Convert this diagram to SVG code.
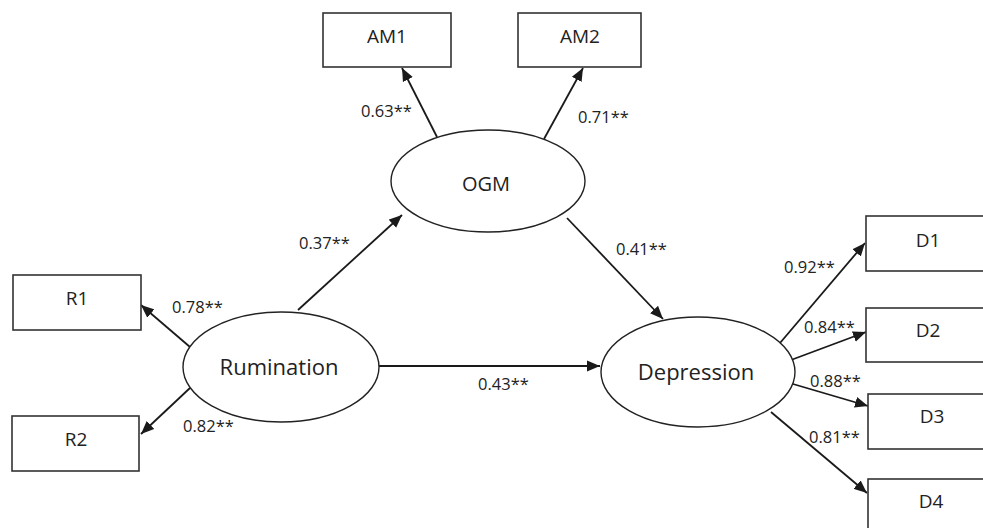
<svg xmlns="http://www.w3.org/2000/svg" width="983" height="528" viewBox="0 0 983 528">
<style>
.box{fill:#fff;stroke:#333;stroke-width:1.6}
.ell{fill:#fff;stroke:#222;stroke-width:1.4}
.lbl{font-family:"Open Sans","Noto Sans",sans-serif;fill:#222;text-anchor:middle}
.bl{font-size:19px}
.el{font-size:22px}
.cf{font-family:"Open Sans","Noto Sans",sans-serif;font-size:16.5px;fill:#222}
.arr{stroke:#1a1a1a;stroke-width:1.8;fill:none;marker-end:url(#ah)}
</style>
<defs>
<marker id="ah" markerUnits="userSpaceOnUse" markerWidth="14" markerHeight="12" refX="13" refY="6" orient="auto">
<path d="M0,0.5 L13,6 L0,11.5 Z" fill="#1a1a1a"/>
</marker>
</defs>
<rect width="983" height="528" fill="#fff"/>
<g id="connectors">
<line class="arr" x1="437" y1="137" x2="402" y2="68"/>
<line class="arr" x1="544" y1="139" x2="583" y2="68"/>
<line class="arr" x1="298" y1="310" x2="402" y2="215"/>
<line class="arr" x1="567" y1="218" x2="663" y2="319"/>
<line class="arr" x1="378" y1="366" x2="600" y2="366"/>
<line class="arr" x1="190" y1="347" x2="141" y2="305"/>
<line class="arr" x1="190" y1="388" x2="141" y2="434"/>
<line class="arr" x1="780" y1="343" x2="865" y2="243"/>
<line class="arr" x1="791" y1="360" x2="866" y2="332"/>
<line class="arr" x1="793" y1="384" x2="868" y2="406"/>
<line class="arr" x1="771" y1="412" x2="867" y2="493"/>
</g>
<g id="labels">
<text class="cf" x="361" y="117">0.63**</text>
<text class="cf" x="578" y="123">0.71**</text>
<text class="cf" x="299" y="249">0.37**</text>
<text class="cf" x="616" y="255">0.41**</text>
<text class="cf" x="172" y="313">0.78**</text>
<text class="cf" x="183" y="432">0.82**</text>
<text class="cf" x="478" y="390">0.43**</text>
<text class="cf" x="784" y="273">0.92**</text>
<text class="cf" x="804" y="333">0.84**</text>
<text class="cf" x="810" y="387">0.88**</text>
<text class="cf" x="809" y="443">0.81**</text>
</g>
<g id="AM1"><rect class="box" x="323" y="13" width="128" height="54"/><text class="lbl bl" x="387" y="43">AM1</text></g>
<g id="AM2"><rect class="box" x="518" y="13" width="123" height="54"/><text class="lbl bl" x="580" y="43">AM2</text></g>
<g id="OGM"><ellipse class="ell" cx="488" cy="181" rx="97" ry="51"/><text class="lbl el" x="486" y="191" style="font-size:20px">OGM</text></g>
<g id="Rumination"><ellipse class="ell" cx="281" cy="367" rx="98" ry="55"/><text class="lbl el" x="279" y="375">Rumination</text></g>
<g id="Depression"><ellipse class="ell" cx="698" cy="372" rx="97" ry="55"/><text class="lbl el" x="696" y="380">Depression</text></g>
<g id="R1"><rect class="box" x="13" y="275" width="128" height="55"/><text class="lbl bl" x="77" y="305">R1</text></g>
<g id="R2"><rect class="box" x="12" y="416" width="127" height="55"/><text class="lbl bl" x="76" y="446">R2</text></g>
<g id="D1"><rect class="box" x="866" y="216" width="128" height="55"/><text class="lbl bl" x="928" y="247">D1</text></g>
<g id="D2"><rect class="box" x="866" y="308" width="128" height="54"/><text class="lbl bl" x="928" y="337">D2</text></g>
<g id="D3"><rect class="box" x="868" y="394" width="128" height="55"/><text class="lbl bl" x="932" y="423">D3</text></g>
<g id="D4"><rect class="box" x="868" y="479" width="128" height="55"/><text class="lbl bl" x="931" y="508">D4</text></g>
</svg>
